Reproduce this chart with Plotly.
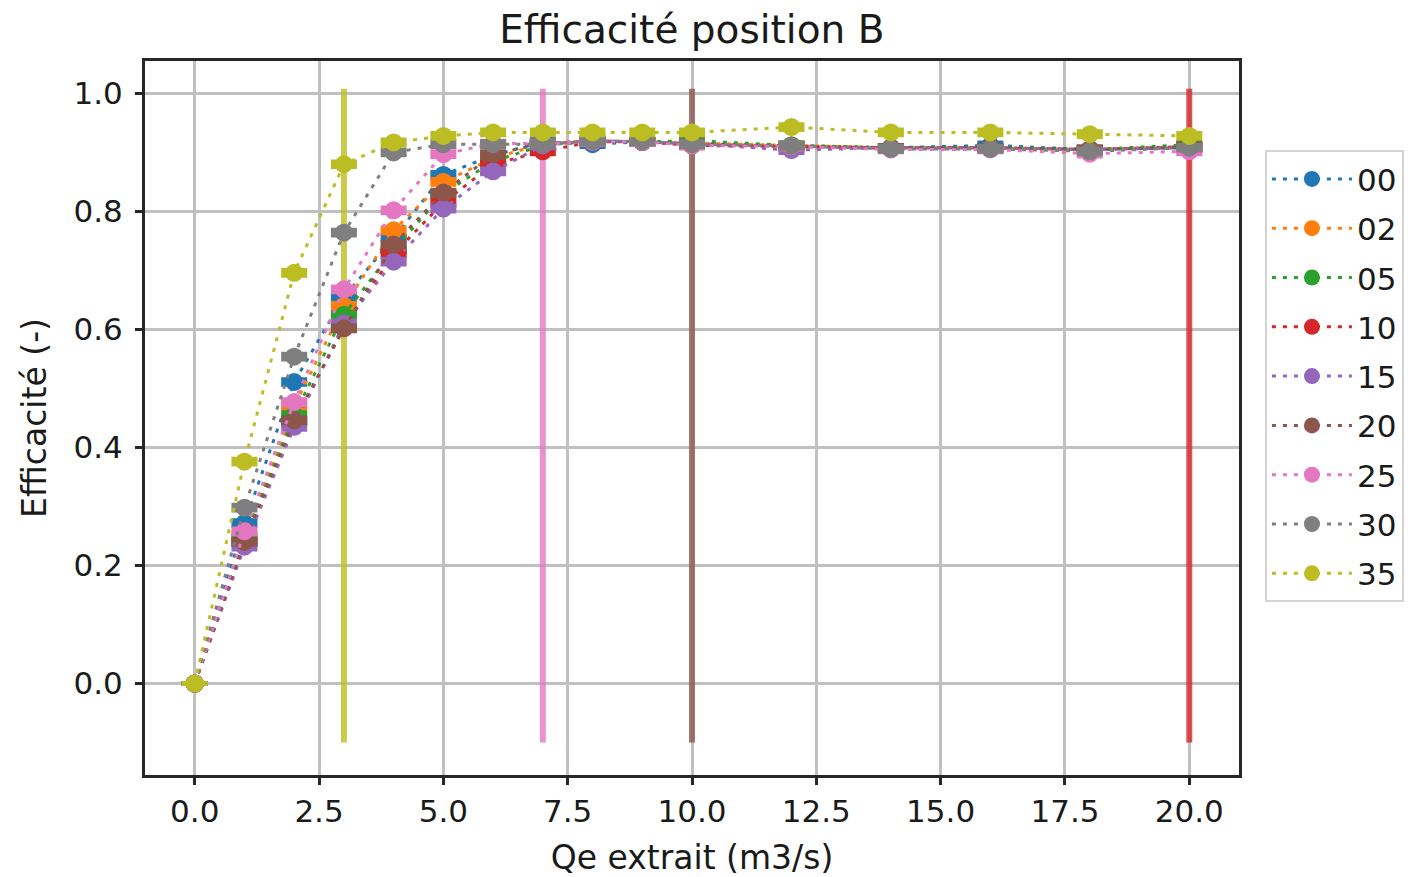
import plotly.graph_objects as go

# Extracted flow rate (m3/s)
qe = [0, 1, 2, 3, 4, 5, 6, 7, 8, 9, 10, 12, 14, 16, 18, 20]

# Efficiency per configuration
eff_00 = [0.0, 0.272, 0.511, 0.655, 0.755, 0.862, 0.895, 0.918, 0.914, 0.918, 0.915, 0.912, 0.908, 0.912, 0.905, 0.908]
eff_02 = [0.0, 0.250, 0.470, 0.640, 0.768, 0.850, 0.890, 0.915, 0.920, 0.918, 0.915, 0.912, 0.908, 0.908, 0.905, 0.908]
eff_05 = [0.0, 0.245, 0.455, 0.625, 0.735, 0.830, 0.885, 0.912, 0.920, 0.918, 0.920, 0.912, 0.908, 0.908, 0.905, 0.913]
eff_10 = [0.0, 0.240, 0.445, 0.603, 0.728, 0.815, 0.880, 0.902, 0.918, 0.918, 0.912, 0.910, 0.908, 0.908, 0.905, 0.910]
eff_15 = [0.0, 0.232, 0.435, 0.610, 0.715, 0.805, 0.868, 0.912, 0.920, 0.918, 0.915, 0.904, 0.908, 0.908, 0.905, 0.908]
eff_20 = [0.0, 0.240, 0.446, 0.602, 0.744, 0.832, 0.897, 0.915, 0.920, 0.918, 0.915, 0.910, 0.908, 0.908, 0.905, 0.910]
eff_25 = [0.0, 0.258, 0.477, 0.668, 0.802, 0.897, 0.915, 0.915, 0.918, 0.918, 0.912, 0.910, 0.905, 0.905, 0.898, 0.902]
eff_30 = [0.0, 0.298, 0.554, 0.764, 0.900, 0.914, 0.914, 0.914, 0.919, 0.919, 0.914, 0.911, 0.906, 0.906, 0.902, 0.908]
eff_35 = [0.0, 0.376, 0.696, 0.880, 0.917, 0.928, 0.934, 0.934, 0.934, 0.934, 0.934, 0.943, 0.934, 0.934, 0.931, 0.928]

# Measurement spread on each point
spread = [0.0, 0.004, 0.004, 0.004, 0.004, 0.004, 0.004, 0.004, 0.004, 0.004, 0.004, 0.004, 0.004, 0.004, 0.004, 0.004]

series_names = ["00", "02", "05", "10", "15", "20", "25", "30", "35"]
series_values = [eff_00, eff_02, eff_05, eff_10, eff_15, eff_20, eff_25, eff_30, eff_35]
colors = ["#1f77b4", "#ff7f0e", "#2ca02c", "#d62728", "#9467bd",
          "#8c564b", "#e377c2", "#7f7f7f", "#bcbd22"]

# Vertical markers (flow rate, configuration, span)
vline_qe = [3, 7, 10, 20]
vline_series = ["35", "25", "20", "10"]
vline_low = -0.1
vline_high = 1.008

x_ticks = [0, 2.5, 5, 7.5, 10, 12.5, 15, 17.5, 20]
y_ticks = [0.0, 0.2, 0.4, 0.6, 0.8, 1.0]


def rgba(hex_color, alpha):
    h = hex_color.lstrip("#")
    r, g, b = int(h[0:2], 16), int(h[2:4], 16), int(h[4:6], 16)
    return f"rgba({r},{g},{b},{alpha})"


fig = go.Figure()

for q, name in zip(vline_qe, vline_series):
    col = colors[series_names.index(name)]
    fig.add_trace(go.Scatter(
        x=[q, q], y=[vline_low, vline_high], mode="lines",
        line=dict(color=rgba(col, 0.8), width=6),
        showlegend=False, hoverinfo="skip",
    ))

for name, vals, col in zip(series_names, series_values, colors):
    fig.add_trace(go.Scatter(
        x=qe, y=vals, name=name, legendgroup=name,
        mode="lines+markers",
        line=dict(color=col, width=3, dash="4px,7px"),
        marker=dict(size=18, color=col),
        error_y=dict(type="data", array=spread, visible=True,
                     color=col, thickness=5, width=13),
    ))

font_family = "DejaVu Sans, Verdana, sans-serif"
text_color = "#1a1a1a"
frame_color = "#262626"
grid_color = "#c0c0c0"

fig.update_layout(
    width=1422, height=877,
    margin=dict(l=145, r=183, t=61, b=102, autoexpand=False),
    paper_bgcolor="white", plot_bgcolor="white",
    font=dict(family=font_family, size=31, color=text_color),
    title=dict(text="Efficacité position B", x=0.4865, xanchor="center",
               y=0.966, yanchor="middle",
               font=dict(size=39, color=text_color)),
    legend=dict(
        x=1.0237, y=0.875, xanchor="left", yanchor="top",
        traceorder="grouped", tracegroupgap=6,
        bgcolor="white", bordercolor="#d4d4d4", borderwidth=2,
        font=dict(size=31, color=text_color),
        itemwidth=80,
    ),
    showlegend=True,
)

fig.update_xaxes(
    range=[-1, 21], tickvals=x_ticks, tickformat=".1f",
    showgrid=True, gridcolor=grid_color, gridwidth=2.5,
    zeroline=False,
    showline=True, mirror=True, linecolor=frame_color, linewidth=3,
    ticks="outside", ticklen=7, tickwidth=3, tickcolor=frame_color,
    tickfont=dict(size=31, color=text_color),
    title=dict(text="Qe extrait (m3/s)", font=dict(size=33, color=text_color), standoff=20),
)

fig.update_yaxes(
    range=[-0.155, 1.055], tickvals=y_ticks, tickformat=".1f",
    showgrid=True, gridcolor=grid_color, gridwidth=2.5,
    zeroline=False,
    showline=True, mirror=True, linecolor=frame_color, linewidth=3,
    ticks="outside", ticklen=7, tickwidth=3, tickcolor=frame_color,
    ticklabelstandoff=6,
    tickfont=dict(size=31, color=text_color),
    title=dict(text="Efficacité (-)", font=dict(size=33, color=text_color), standoff=17),
)

fig.write_html("out.html")
